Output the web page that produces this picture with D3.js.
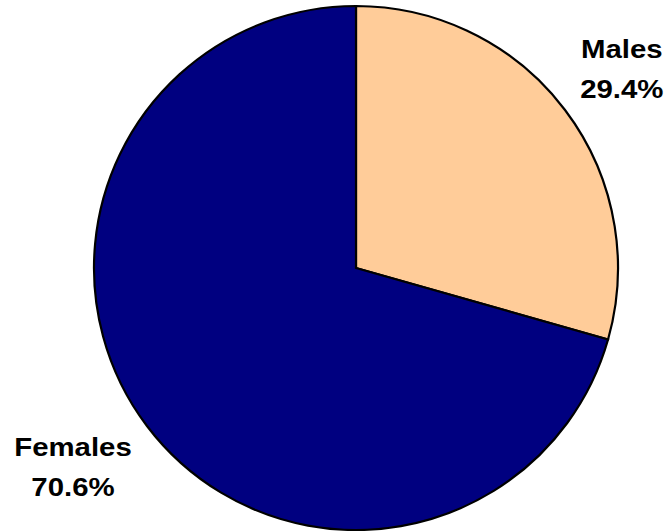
<!DOCTYPE html>
<html>
<head>
<meta charset="utf-8">
<script src="https://cdn.jsdelivr.net/npm/d3@7/dist/d3.min.js"></script>
<style>
  html, body { margin: 0; padding: 0; background: #ffffff; }
  svg { display: block; }
</style>
</head>
<body>
<svg id="chart" width="665" height="531"></svg>
<script>
// Share of respondents by sex
const categories = ["Males", "Females"];
const values = [29.4, 70.6];
const colors = ["#FFCC99", "#000080"];

const W = 665, H = 531;
const cx = 356, cy = 268, radius = 262;
const labelGap = 19;
const fontSize = 26;
const stretch = 1.13;   // labels are set slightly wide
const lineStep = 40;
const capHeight = fontSize * 0.716;

const svg = d3.select("#chart");
const g = svg.append("g").attr("transform", `translate(${cx},${cy})`);

const pie = d3.pie().sort(null).value(d => d.value);
const arcs = pie(categories.map((c, i) => ({ name: c, value: values[i], color: colors[i] })));
const arc = d3.arc().innerRadius(0).outerRadius(radius);

g.selectAll("path.slice")
  .data(arcs)
  .join("path")
  .attr("class", "slice")
  .attr("d", arc)
  .attr("fill", d => d.data.color)
  .attr("stroke", "#000")
  .attr("stroke-width", 2.2)
  .attr("stroke-linejoin", "miter");

// Labels sit just outside the rim, with their nearest corner on the slice's mid-angle.
const labels = svg.append("g");
arcs.forEach(d => {
  const mid = (d.startAngle + d.endAngle) / 2;
  const sx = Math.sin(mid), sy = -Math.cos(mid);
  const px = cx + (radius + labelGap) * sx;
  const py = cy + (radius + labelGap) * sy;

  const lines = [d.data.name, d3.format(".1f")(d.data.value) + "%"];
  const t = labels.append("text")
    .attr("font-family", "'Liberation Sans', Arial, sans-serif")
    .attr("font-weight", "bold")
    .attr("font-size", fontSize)
    .attr("fill", "#000")
    .attr("text-anchor", "middle");
  const spans = lines.map(s => t.append("tspan").text(s));
  let maxW = 0;
  spans.forEach(sp => {
    const w = sp.node().getComputedTextLength() * stretch;
    sp.attr("textLength", w).attr("lengthAdjust", "spacingAndGlyphs");
    maxW = Math.max(maxW, w);
  });
  const boxH = capHeight + lineStep * (lines.length - 1) + 1;
  const left = sx >= 0 ? px : px - maxW;
  const top = sy <= 0 ? py - boxH : py;
  const centerX = left + maxW / 2;
  spans.forEach((sp, i) => {
    sp.attr("x", centerX).attr("y", top + capHeight + i * lineStep);
  });
});
</script>
</body>
</html>
